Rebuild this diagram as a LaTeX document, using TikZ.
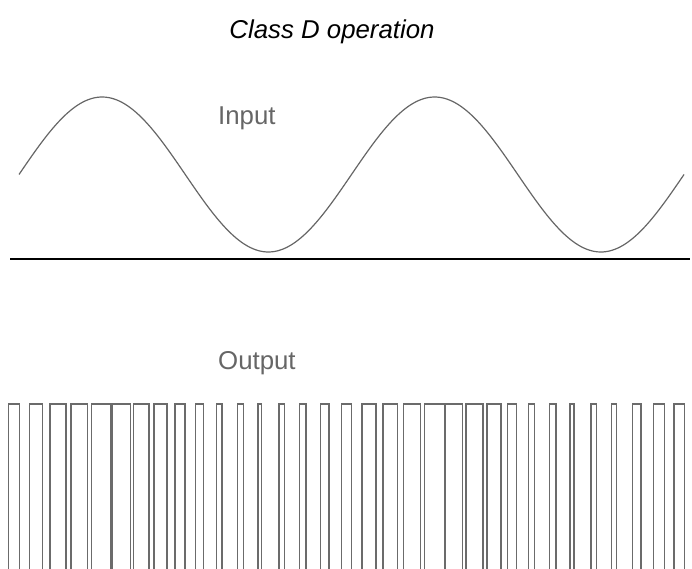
\documentclass[tikz,border=0pt]{standalone}
\usepackage{fontspec}
\setmainfont{Liberation Sans}
\usepackage{tikz}
\tikzset{
  wave/.style      = {black!60,line width=1.2pt},
  pulseline/.style = {black!58,line width=1.4pt},
  axisline/.style  = {black,line width=1.3pt},
  lbl/.style       = {font=\fontsize{25.8}{30}\selectfont,inner sep=0pt}
}
\newcommand{\pulse}[2]{%
  \draw[pulseline] (#1,571) |- (#1+#2,404) -- (#1+#2,571);
}

\begin{document}
\begin{tikzpicture}[x=1pt,y=-1pt]
  \useasboundingbox (0,0) rectangle (692,569);
  \node[lbl,anchor=base,font=\fontsize{25.8}{30}\selectfont\itshape] (title) at (332,39) {Class D operation};
  \node[lbl,anchor=base west,text=black!60] (input)  at (218,125) {Input};
  \node[lbl,anchor=base west,text=black!60] (output) at (218,369) {Output};
  \draw[wave] plot[domain=19:684,samples=240,smooth]
        (\x,{174.5-77.5*sin((\x-19)*1.08271)});
  \draw[axisline] (10,259) -- (690,259);
  \foreach \w [count=\k from 0] in {10.8,13.3,16,16.5,19.3,18,15.7,13,10,7.7,5.6,
      6,3.4,5.8,6.3,8.6,10,14,14.5,16.5,20,17,17,14,9,6,6.5,4,5.5,5,8.5,11,10.5}
    {\pulse{8.5+20.8*\k}{\w}}
\end{tikzpicture}
\end{document}
